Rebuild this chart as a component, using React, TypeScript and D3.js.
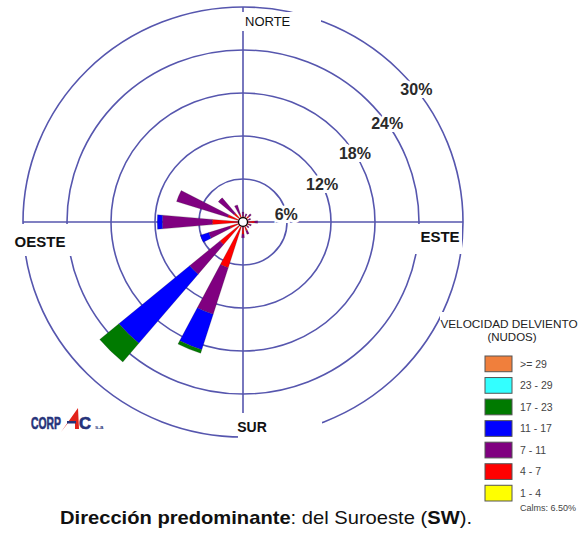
import React, { useRef, useEffect } from 'react';
import * as d3 from 'd3';

const DIRECTIONS = ['N', 'NNE', 'NE', 'ENE', 'E', 'ESE', 'SE', 'SSE', 'S', 'SSW', 'SW', 'WSW', 'W', 'WNW', 'NW', 'NNW'];
const SPEED_BINS = ['1 - 4', '4 - 7', '7 - 11', '11 - 17', '17 - 23', '23 - 29', '>= 29'];
const BIN_COLORS = ['#ffff00', '#ff0000', '#800080', '#0000ff', '#007a00', '#33ffff', '#f07f3c'];

// frequency (%) by direction, one list per speed bin (knots)
const BIN_1_4 = [0.3, 0.3, 0.3, 0.2, 0.3, 0.2, 0.2, 0.3, 0.3, 0.3, 0.3, 0.3, 0.3, 0.3, 0.3, 0.3];
const BIN_4_7 = [0.6, 0.5, 0.8, 0.6, 1.3, 0.7, 0.6, 1.0, 1.4, 6.4, 3.8, 1.6, 3.9, 1.9, 1.3, 0.9];
const BIN_7_11 = [0.5, 0.4, 0.4, 0.3, 0.4, 0.3, 0.3, 0.5, 0.5, 6.8, 5.4, 3.0, 6.8, 7.3, 2.8, 1.3];
const BIN_11_17 = [0, 0, 0, 0, 0, 0, 0, 0, 0, 5.2, 12.6, 1.2, 0.7, 0, 0, 0];
const BIN_17_23 = [0, 0, 0, 0, 0, 0, 0, 0, 0, 0.5, 3.4, 0, 0, 0, 0, 0];
const BIN_23_29 = [0, 0, 0, 0, 0, 0, 0, 0, 0, 0, 0, 0, 0, 0, 0, 0];
const BIN_29_UP = [0, 0, 0, 0, 0, 0, 0, 0, 0, 0, 0, 0, 0, 0, 0, 0];

const RING_TICKS = [6, 12, 18, 24, 30];
const RING_LABELS = ['6%', '12%', '18%', '24%', '30%'];
const CALMS = 'Calms: 6.50%';

const App: React.FC = () => {
  const svgRef = useRef<SVGSVGElement>(null);

  useEffect(() => {
    if (!svgRef.current) return;
    const W = 580, H = 535;
    const cx = 243, cy = 222;
    const font = 'Liberation Sans, Arial, sans-serif';
    const ringColor = '#5656ae';

    const svg = d3.select(svgRef.current);
    svg.selectAll('*').remove();
    svg.attr('width', W).attr('height', H).attr('viewBox', `0 0 ${W} ${H}`);
    svg.append('rect').attr('width', W).attr('height', H).attr('fill', '#fff');

    const r = d3.scaleLinear().domain([0, 30]).range([0, 220]);
    const yScale = 215 / 220;

    const g = svg.append('g').attr('transform', `translate(${cx},${cy}) scale(1,${yScale})`);

    // rings
    g.append('g')
      .selectAll('circle')
      .data(RING_TICKS)
      .join('circle')
      .attr('r', d => r(d))
      .attr('fill', 'none')
      .attr('stroke', ringColor)
      .attr('stroke-width', 1.6);

    // axes
    g.append('line')
      .attr('x1', -r(30)).attr('x2', r(30)).attr('y1', 0).attr('y2', 0)
      .attr('stroke', ringColor).attr('stroke-width', 1.6);
    g.append('line')
      .attr('x1', 0).attr('x2', 0).attr('y1', -r(30)).attr('y2', r(30))
      .attr('stroke', ringColor).attr('stroke-width', 1.6);

    // stacked wedges
    const bins = [BIN_1_4, BIN_4_7, BIN_7_11, BIN_11_17, BIN_17_23, BIN_23_29, BIN_29_UP];
    const rows = DIRECTIONS.map((dir, i) => {
      const row: any = { dir };
      SPEED_BINS.forEach((b, k) => (row[b] = bins[k][i]));
      return row;
    });
    const stack = d3.stack<any>().keys(SPEED_BINS)(rows);
    const angle = d3.scaleBand().domain(DIRECTIONS).range([-Math.PI / 16, 2 * Math.PI - Math.PI / 16]);
    const half = (5 * Math.PI) / 180;
    const arc = d3.arc<any>()
      .innerRadius(d => r(d[0]))
      .outerRadius(d => r(d[1]))
      .startAngle(d => angle(d.data.dir)! + angle.bandwidth() / 2 - half)
      .endAngle(d => angle(d.data.dir)! + angle.bandwidth() / 2 + half);

    g.append('g')
      .selectAll('g')
      .data(stack)
      .join('g')
      .attr('fill', (_, k) => BIN_COLORS[k])
      .selectAll('path')
      .data(s => s.filter(d => d[1] > d[0]))
      .join('path')
      .attr('d', arc)
      .attr('stroke', '#222')
      .attr('stroke-opacity', 0.35)
      .attr('stroke-width', 0.6);

    // calm circle
    g.append('circle').attr('r', 4.5).attr('fill', '#fff').attr('stroke', '#000').attr('stroke-width', 1.3);

    // ring labels on the rings
    const labelAngles = [79, 64, 58, 55, 52];
    svg.append('g')
      .selectAll('text')
      .data(RING_TICKS)
      .join('text')
      .attr('x', (d, i) => cx + r(d) * Math.sin((labelAngles[i] * Math.PI) / 180))
      .attr('y', (d, i) => cy - r(d) * yScale * Math.cos((labelAngles[i] * Math.PI) / 180))
      .attr('dy', '0.36em')
      .attr('text-anchor', 'middle')
      .attr('font-family', font)
      .attr('font-weight', 'bold')
      .attr('font-size', 16)
      .attr('fill', '#2a2a2a')
      .attr('stroke', '#fff')
      .attr('stroke-width', 6)
      .attr('paint-order', 'stroke')
      .text((_, i) => RING_LABELS[i]);

    // cardinal labels with white boxes
    const boxes = [
      { x: 241, y: 12, w: 80, h: 19 },
      { x: 10, y: 224, w: 66, h: 32 },
      { x: 414, y: 224, w: 48, h: 30 },
      { x: 238, y: 413, w: 84, h: 28 },
      { x: 440, y: 312, w: 140, h: 223 },
    ];
    svg.append('g')
      .selectAll('rect')
      .data(boxes)
      .join('rect')
      .attr('x', d => d.x).attr('y', d => d.y).attr('width', d => d.w).attr('height', d => d.h)
      .attr('fill', '#fff');

    const cardinals = [
      { t: 'NORTE', x: 245, y: 26, a: 'start', w: 'normal', s: 13 },
      { t: 'OESTE', x: 40, y: 247, a: 'middle', w: 'bold', s: 15 },
      { t: 'ESTE', x: 440, y: 242, a: 'middle', w: 'bold', s: 15 },
      { t: 'SUR', x: 252, y: 432, a: 'middle', w: 'bold', s: 14 },
    ];
    svg.append('g')
      .selectAll('text')
      .data(cardinals)
      .join('text')
      .attr('x', d => d.x).attr('y', d => d.y)
      .attr('text-anchor', d => d.a)
      .attr('font-family', font)
      .attr('font-weight', d => d.w)
      .attr('font-size', d => d.s)
      .attr('fill', '#111')
      .text(d => d.t);

    // legend
    const lg = svg.append('g').attr('font-family', font);
    lg.append('text').attr('x', 509).attr('y', 328).attr('text-anchor', 'middle')
      .attr('font-size', 11.8).attr('fill', '#222').text('VELOCIDAD DELVIENTO');
    lg.append('text').attr('x', 512).attr('y', 341).attr('text-anchor', 'middle')
      .attr('font-size', 11.5).attr('fill', '#222').text('(NUDOS)');

    const order = d3.range(SPEED_BINS.length).reverse();
    const ly = d3.scaleBand<number>().domain(order).range([356, 501]).paddingInner(0.27).paddingOuter(0);
    const item = lg.selectAll('g.item').data(order).join('g').attr('class', 'item');
    item.append('rect')
      .attr('x', 485).attr('y', k => ly(k)!)
      .attr('width', 27).attr('height', ly.bandwidth())
      .attr('fill', k => BIN_COLORS[k])
      .attr('stroke', '#555').attr('stroke-width', 1);
    item.append('text')
      .attr('x', 520).attr('y', k => ly(k)! + ly.bandwidth() / 2)
      .attr('dy', '0.36em')
      .attr('font-size', 10.5).attr('fill', '#444')
      .text(k => SPEED_BINS[k]);
    lg.append('text').attr('x', 548).attr('y', 511).attr('text-anchor', 'middle')
      .attr('font-size', 9).attr('fill', '#444').text(CALMS);

    // CORPAC logo
    const navy = '#26337a';
    const logo = svg.append('g').attr('font-family', font).attr('font-weight', 'bold');
    logo.append('text').attr('x', 31).attr('y', 429).attr('font-size', 16).attr('fill', navy)
      .attr('stroke', navy).attr('stroke-width', 0.6)
      .attr('textLength', 30).attr('lengthAdjust', 'spacingAndGlyphs').text('CORP');
    logo.append('path').attr('d', 'M61,432 L78,408 L79,429 L75,429 L75,423 L68,423 Z').attr('fill', '#e2231a');
    logo.append('rect').attr('x', 67).attr('y', 421).attr('width', 9).attr('height', 2.5).attr('fill', navy);
    logo.append('text').attr('x', 79).attr('y', 429).attr('font-size', 16).attr('fill', navy)
      .attr('stroke', navy).attr('stroke-width', 0.6)
      .attr('textLength', 12).attr('lengthAdjust', 'spacingAndGlyphs').text('C');
    logo.append('text').attr('x', 95).attr('y', 429).attr('font-size', 6).attr('fill', navy).text('s.a');

    // caption
    const cap = svg.append('text').attr('x', 60).attr('y', 524).attr('font-family', font)
      .attr('font-size', 18.5).attr('fill', '#111')
      .attr('textLength', 412).attr('lengthAdjust', 'spacingAndGlyphs');
    cap.append('tspan').attr('font-weight', 'bold').text('Dirección predominante');
    cap.append('tspan').text(': del Suroeste (');
    cap.append('tspan').attr('font-weight', 'bold').text('SW');
    cap.append('tspan').text(').');
  }, []);

  return <svg ref={svgRef} style={{ position: 'absolute', left: 0, top: 0, display: 'block' }} />;
};

export default App;
